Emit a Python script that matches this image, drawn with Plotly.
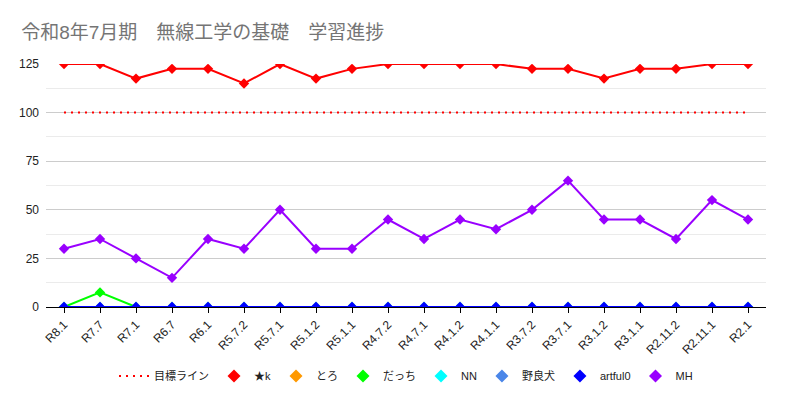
import plotly.graph_objects as go

categories = ["R8.1", "R7.7", "R7.1", "R6.7", "R6.1", "R5.7.2", "R5.7.1", "R5.1.2", "R5.1.1", "R4.7.2",
              "R4.7.1", "R4.1.2", "R4.1.1", "R3.7.2", "R3.7.1", "R3.1.2", "R3.1.1", "R2.11.2", "R2.11.1", "R2.1"]
target = [100] * 20
star_k = [125, 125, 117.5, 122.5, 122.5, 115, 125, 117.5, 122.5, 125,
          125, 125, 125, 122.5, 122.5, 117.5, 122.5, 122.5, 125, 125]
toro = [0] * 20
dacchi = [0, 7.5, 0, 0, 0, 0, 0, 0, 0, 0, 0, 0, 0, 0, 0, 0, 0, 0, 0, 0]
nn = [0] * 20
norainu = [0] * 20
artful0 = [0] * 20
mh = [30, 35, 25, 15, 35, 30, 50, 30, 30, 45, 35, 45, 40, 50, 65, 45, 45, 35, 55, 45]

series = [
    ("★k", star_k, "#ff0000"),
    ("とろ", toro, "#ff9900"),
    ("だっち", dacchi, "#00ff00"),
    ("NN", nn, "#00ffff"),
    ("野良犬", norainu, "#4a86e8"),
    ("artful0", artful0, "#0000ff"),
    ("MH", mh, "#9900ff"),
]

font = "Arial, 'Liberation Sans', 'Noto Sans CJK JP', sans-serif"
fig = go.Figure()
fig.add_trace(go.Scatter(x=categories, y=target, mode="lines", name="目標ライン",
                         line=dict(color="#ff0000", width=2, dash="2px,5px")))
for name, vals, color in series:
    fig.add_trace(go.Scatter(x=categories, y=vals, mode="lines+markers", name=name,
                             legendgroup=name, showlegend=False, cliponaxis=True,
                             line=dict(color=color, width=2),
                             marker=dict(symbol="diamond", size=8, color=color)))
    fig.add_trace(go.Scatter(x=[None], y=[None], mode="markers", name=name,
                             legendgroup=name, showlegend=True,
                             marker=dict(symbol="diamond", size=10, color=color)))

fig.update_layout(
    width=787, height=402,
    margin=dict(l=46, r=21, t=64, b=95),
    paper_bgcolor="white", plot_bgcolor="white",
    font=dict(family=font, size=12, color="#222222"),
    title=dict(text="令和8年7月期\u3000無線工学の基礎\u3000学習進捗", x=0.027, xanchor="left",
               y=0.92, yanchor="middle", font=dict(size=19, color="#757575")),
    showlegend=True,
    legend=dict(orientation="h", x=0.5, xanchor="center", y=-0.284, yanchor="middle",
                font=dict(size=11, color="#222222"), itemwidth=30),
    xaxis=dict(type="category", range=[-0.5, len(categories) - 0.5], tickangle=-45,
               showgrid=False, ticks="outside", ticklen=5,
               tickcolor="#000000", showline=True, linecolor="#000000", linewidth=1,
               tickfont=dict(size=12, color="#222222"), zeroline=False, automargin=False),
    yaxis=dict(range=[0, 125], tickvals=[0, 25, 50, 75, 100, 125], gridcolor="#cccccc",
               showline=False, zeroline=False, ticks="", ticklabelstandoff=6, automargin=False,
               tickfont=dict(size=12, color="#222222"),
               minor=dict(tickvals=[12.5, 37.5, 62.5, 87.5, 112.5], showgrid=True,
                          gridcolor="#ebebeb")),
)
fig.write_html("out.html")
